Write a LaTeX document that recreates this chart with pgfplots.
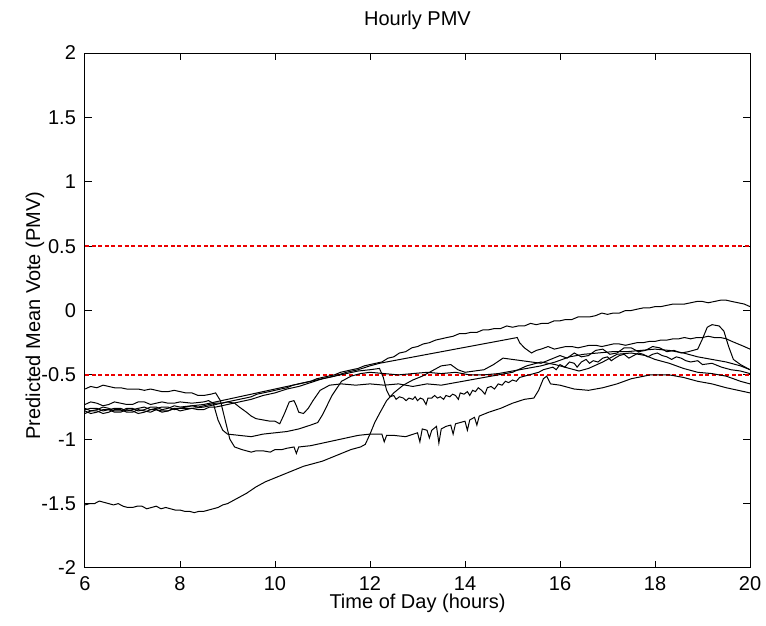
\documentclass[border=0pt]{standalone}
\usepackage{pgfplots}
\pgfplotsset{compat=1.18}
\usepackage{fontspec}
\setmainfont{Liberation Sans}
\definecolor{refred}{RGB}{235,0,0}
\begin{document}
\begin{tikzpicture}[font=\fontsize{10}{12}\selectfont]
\path[use as bounding box] (-42.5pt,-29pt) rectangle (340.5pt,284pt);
\begin{axis}[
  at={(0pt,0pt)}, anchor=south west,
  width=332.5pt, height=257.5pt, scale only axis,
  xmin=6, xmax=20, ymin=-2, ymax=2,
  xtick={6,8,10,12,14,16,18,20},
  ytick={-2,-1.5,-1,-0.5,0,0.5,1,1.5,2},
  yticklabels={-2,-1.5,-1,-0.5,0,0.5,1,1.5,2},
  xtick pos=both, ytick pos=both,
  tick align=inside, major tick length=3.5pt,
  tick style={black, line width=0.5pt},
  axis line style={black, line width=0.5pt},
  /pgf/number format/assume math mode=true,
  xticklabel style={inner sep=0.5pt, yshift=-3.8pt},
  yticklabel style={xshift=-1pt},
  xlabel={Time of Day (hours)},
  ylabel={Predicted Mean Vote (PMV)},
  xlabel style={at={(axis description cs:0.5,0)}, anchor=north, inner sep=0.5pt, yshift=-12.5pt},
  ylabel style={at={(axis description cs:-0.0752,0.49)}, anchor=center},
  clip=true,
]
% reference lines
\addplot[refred, line width=0.9pt, dash pattern=on 2pt off 1.3pt] coordinates {(6,0.5) (20,0.5)};
\addplot[refred, line width=0.9pt, dash pattern=on 2pt off 1.3pt] coordinates {(6,-0.5) (20,-0.5)};
% S1 top
\addplot[black, line width=0.5pt] coordinates {
(6.0,-0.77)(6.12,-0.76)(6.25,-0.76)(6.38,-0.78)(6.5,-0.77)(6.62,-0.76)(6.75,-0.76)(6.88,-0.78)(7.0,-0.77)(7.12,-0.76)(7.25,-0.75)(7.38,-0.77)(7.5,-0.76)(7.62,-0.75)(7.75,-0.75)(7.88,-0.77)(8.0,-0.76)(8.12,-0.75)(8.25,-0.74)(8.38,-0.75)(8.5,-0.74)(8.62,-0.73)(8.75,-0.72)(8.88,-0.72)(9.0,-0.71)(9.12,-0.70)(9.25,-0.69)(9.38,-0.68)(9.5,-0.67)(9.62,-0.65)(9.75,-0.64)(9.88,-0.63)(10.0,-0.62)(10.12,-0.61)(10.25,-0.60)(10.38,-0.58)(10.5,-0.57)(10.62,-0.56)(10.75,-0.55)(10.88,-0.53)(11.0,-0.52)(11.12,-0.51)(11.25,-0.50)(11.38,-0.48)(11.5,-0.47)(11.62,-0.46)(11.75,-0.45)(11.88,-0.43)(12.0,-0.42)(12.12,-0.41)(12.25,-0.40)(12.38,-0.37)(12.5,-0.36)(12.62,-0.33)(12.75,-0.32)(12.88,-0.29)(13.0,-0.28)(13.12,-0.26)(13.25,-0.25)(13.38,-0.23)(13.5,-0.22)(13.62,-0.21)(13.75,-0.20)(13.88,-0.18)(14.0,-0.18)(14.12,-0.17)(14.25,-0.17)(14.38,-0.15)(14.5,-0.15)(14.62,-0.14)(14.75,-0.14)(14.88,-0.12)(15.0,-0.13)(15.12,-0.12)(15.25,-0.12)(15.38,-0.10)(15.5,-0.11)(15.62,-0.10)(15.75,-0.10)(15.88,-0.08)(16.0,-0.08)(16.12,-0.07)(16.25,-0.07)(16.38,-0.05)(16.5,-0.05)(16.62,-0.05)(16.75,-0.04)(16.88,-0.02)(17.0,-0.03)(17.12,-0.02)(17.25,-0.02)(17.38,0.00)(17.5,0.00)(17.62,0.01)(17.75,0.02)(17.88,0.02)(18.0,0.03)(18.12,0.03)(18.25,0.04)(18.38,0.05)(18.5,0.05)(18.62,0.05)(18.75,0.06)(18.88,0.07)(19.0,0.07)(19.12,0.06)(19.25,0.07)(19.38,0.08)(19.5,0.08)(19.62,0.07)(19.75,0.06)(19.88,0.05)(20.0,0.03)
};
% S2 with gap
\addplot[black, line width=0.5pt] coordinates {
(6.0,-0.80)(6.12,-0.78)(6.25,-0.78)(6.38,-0.80)(6.5,-0.79)(6.62,-0.77)(6.75,-0.77)(6.88,-0.79)(7.0,-0.79)(7.12,-0.77)(7.25,-0.78)(7.38,-0.79)(7.5,-0.77)(7.62,-0.78)(7.75,-0.78)(7.88,-0.76)(8.0,-0.78)(8.12,-0.77)(8.25,-0.76)(8.38,-0.77)(8.5,-0.77)(8.62,-0.75)(8.75,-0.75)(8.88,-0.74)(9.0,-0.73)(9.25,-0.71)(9.5,-0.69)(9.75,-0.66)(10.0,-0.64)(10.25,-0.61)(10.5,-0.59)(10.75,-0.56)(11.0,-0.53)(11.25,-0.51)(11.5,-0.48)(11.75,-0.46)(12.0,-0.43)(12.2,-0.41)
(15.1,-0.21)(15.15,-0.25)(15.25,-0.29)(15.4,-0.33)(15.5,-0.31)(15.6,-0.30)(15.75,-0.28)(15.88,-0.30)(16.0,-0.29)(16.12,-0.28)(16.25,-0.28)(16.38,-0.29)(16.5,-0.28)(16.62,-0.27)(16.75,-0.27)(16.88,-0.28)(17.0,-0.27)(17.12,-0.26)(17.25,-0.26)(17.38,-0.27)(17.5,-0.26)(17.62,-0.25)(17.75,-0.25)(17.88,-0.24)(18.0,-0.24)(18.12,-0.23)(18.25,-0.23)(18.38,-0.22)(18.5,-0.22)(18.62,-0.21)(18.75,-0.22)(18.88,-0.21)(19.0,-0.21)(19.12,-0.20)(19.25,-0.21)(19.38,-0.21)(19.5,-0.22)(19.62,-0.24)(19.75,-0.26)(19.88,-0.28)(20.0,-0.30)
};
% C: drops at 12.25, noisy
\addplot[black, line width=0.5pt] coordinates {
(6.0,-0.76)(6.12,-0.78)(6.25,-0.77)(6.38,-0.75)(6.5,-0.76)(6.62,-0.78)(6.75,-0.78)(6.88,-0.76)(7.0,-0.76)(7.12,-0.78)(7.25,-0.77)(7.38,-0.75)(7.5,-0.75)(7.62,-0.77)(7.75,-0.76)(7.88,-0.74)(8.0,-0.75)(8.25,-0.74)(8.5,-0.73)(8.75,-0.71)(9.0,-0.69)(9.25,-0.67)(9.5,-0.65)(9.75,-0.63)(10.0,-0.61)(10.25,-0.59)(10.5,-0.57)(10.75,-0.55)(11.0,-0.53)(11.25,-0.51)(11.5,-0.49)(11.75,-0.47)(12.0,-0.46)(12.2,-0.45)(12.28,-0.52)(12.35,-0.62)(12.42,-0.67)(12.5,-0.66)(12.55,-0.69)(12.62,-0.67)(12.7,-0.68)(12.76,-0.70)(12.82,-0.68)(12.9,-0.69)(12.95,-0.67)(13.0,-0.70)(13.06,-0.68)(13.12,-0.69)(13.18,-0.73)(13.22,-0.68)(13.3,-0.68)(13.36,-0.66)(13.42,-0.68)(13.48,-0.67)(13.55,-0.69)(13.6,-0.66)(13.68,-0.67)(13.74,-0.65)(13.8,-0.66)(13.86,-0.69)(13.9,-0.64)(13.98,-0.65)(14.05,-0.63)(14.1,-0.66)(14.16,-0.62)(14.22,-0.63)(14.28,-0.60)(14.35,-0.62)(14.42,-0.65)(14.47,-0.60)(14.55,-0.59)(14.62,-0.61)(14.7,-0.57)(14.78,-0.58)(14.85,-0.55)(14.92,-0.56)(15.0,-0.54)(15.08,-0.55)(15.15,-0.52)(15.25,-0.51)(15.35,-0.50)(15.45,-0.49)(15.55,-0.48)(15.65,-0.46)(15.75,-0.45)(15.85,-0.44)(15.92,-0.46)(16.0,-0.42)(16.1,-0.44)(16.2,-0.40)(16.3,-0.41)(16.36,-0.44)(16.45,-0.40)(16.55,-0.38)(16.62,-0.41)(16.7,-0.39)(16.8,-0.40)(16.9,-0.37)(17.0,-0.36)(17.08,-0.39)(17.16,-0.37)(17.25,-0.35)(17.35,-0.34)(17.45,-0.37)(17.55,-0.35)(17.65,-0.33)(17.75,-0.34)(17.85,-0.36)(17.95,-0.34)(18.05,-0.33)(18.15,-0.35)(18.25,-0.36)(18.35,-0.38)(18.45,-0.36)(18.55,-0.37)(18.65,-0.39)(18.75,-0.40)(18.9,-0.39)(19.0,-0.42)(19.2,-0.41)(19.4,-0.44)(19.6,-0.46)(19.8,-0.47)(20.0,-0.49)
};
% E: W-shaped early, smooth later
\addplot[black, line width=0.5pt] coordinates {
(6.0,-0.78)(6.12,-0.80)(6.25,-0.79)(6.38,-0.77)(6.5,-0.77)(6.62,-0.79)(6.75,-0.79)(6.88,-0.77)(7.0,-0.78)(7.12,-0.80)(7.25,-0.79)(7.38,-0.77)(7.5,-0.77)(7.62,-0.79)(7.75,-0.78)(7.88,-0.76)(8.0,-0.76)(8.25,-0.76)(8.5,-0.75)(8.75,-0.73)(9.0,-0.71)(9.15,-0.72)(9.25,-0.75)(9.4,-0.79)(9.5,-0.82)(9.6,-0.84)(9.75,-0.85)(9.9,-0.86)(10.0,-0.86)(10.1,-0.88)(10.2,-0.80)(10.3,-0.71)(10.4,-0.70)(10.45,-0.74)(10.5,-0.79)(10.6,-0.80)(10.7,-0.76)(10.8,-0.70)(10.95,-0.62)(11.15,-0.58)(11.4,-0.57)(11.7,-0.58)(12.0,-0.57)(12.3,-0.58)(12.6,-0.57)(12.9,-0.59)(13.2,-0.57)(13.5,-0.58)(13.8,-0.56)(14.1,-0.54)(14.4,-0.52)(14.7,-0.50)(15.0,-0.48)(15.3,-0.43)(15.6,-0.40)(15.9,-0.42)(16.2,-0.45)(16.4,-0.47)(16.6,-0.45)(16.9,-0.40)(17.2,-0.34)(17.5,-0.33)(17.8,-0.35)(18.0,-0.38)(18.3,-0.41)(18.6,-0.45)(18.9,-0.48)(19.2,-0.49)(19.5,-0.51)(19.8,-0.55)(20.0,-0.57)
};
% D1: drop at 8.8
\addplot[black, line width=0.5pt] coordinates {
(6.0,-0.73)(6.12,-0.71)(6.25,-0.72)(6.38,-0.74)(6.5,-0.73)(6.62,-0.71)(6.75,-0.72)(6.88,-0.73)(7.0,-0.73)(7.12,-0.71)(7.25,-0.71)(7.38,-0.73)(7.5,-0.72)(7.62,-0.71)(7.75,-0.72)(7.88,-0.72)(8.0,-0.71)(8.25,-0.72)(8.5,-0.71)(8.6,-0.70)(8.7,-0.72)(8.8,-0.85)(8.9,-0.93)(9.0,-0.96)(9.25,-0.97)(9.5,-0.98)(9.75,-0.96)(10.0,-0.95)(10.25,-0.94)(10.5,-0.92)(10.75,-0.89)(10.9,-0.87)(11.0,-0.81)(11.2,-0.66)(11.4,-0.55)(11.6,-0.51)(11.8,-0.49)(12.0,-0.48)(12.3,-0.49)(12.6,-0.50)(12.9,-0.49)(13.2,-0.48)(13.5,-0.49)(13.8,-0.48)(14.1,-0.50)(14.4,-0.50)(14.7,-0.49)(15.0,-0.47)(15.3,-0.45)(15.6,-0.43)(15.9,-0.40)(16.2,-0.36)(16.5,-0.34)(16.8,-0.33)(17.1,-0.32)(17.4,-0.32)(17.7,-0.31)(18.0,-0.30)(18.3,-0.31)(18.6,-0.33)(18.9,-0.36)(19.2,-0.38)(19.5,-0.40)(19.8,-0.43)(20.0,-0.46)
};
% D2: starts highest, drops at 8.9, spiky
\addplot[black, line width=0.5pt] coordinates {
(6.0,-0.61)(6.12,-0.59)(6.25,-0.60)(6.38,-0.58)(6.5,-0.59)(6.62,-0.60)(6.75,-0.60)(6.88,-0.61)(7.0,-0.61)(7.12,-0.61)(7.25,-0.62)(7.38,-0.61)(7.5,-0.62)(7.62,-0.63)(7.75,-0.63)(7.88,-0.62)(8.0,-0.63)(8.12,-0.64)(8.25,-0.64)(8.38,-0.66)(8.5,-0.66)(8.65,-0.65)(8.75,-0.64)(8.85,-0.70)(8.95,-0.85)(9.05,-1.00)(9.15,-1.06)(9.3,-1.08)(9.5,-1.10)(9.6,-1.09)(9.75,-1.09)(9.9,-1.10)(10.0,-1.08)(10.15,-1.08)(10.25,-1.07)(10.4,-1.06)(10.45,-1.11)(10.5,-1.06)(10.75,-1.05)(11.0,-1.03)(11.25,-1.01)(11.5,-0.99)(11.75,-0.97)(12.0,-0.96)(12.25,-0.96)(12.3,-1.02)(12.35,-0.97)(12.5,-0.97)(12.75,-0.98)(13.0,-0.95)(13.05,-1.02)(13.1,-0.92)(13.2,-0.93)(13.25,-0.99)(13.3,-0.93)(13.4,-0.90)(13.45,-1.03)(13.5,-0.92)(13.6,-0.90)(13.7,-0.89)(13.75,-0.96)(13.8,-0.88)(13.9,-0.87)(14.0,-0.86)(14.05,-0.93)(14.1,-0.85)(14.2,-0.83)(14.25,-0.89)(14.3,-0.82)(14.5,-0.79)(14.75,-0.76)(15.0,-0.72)(15.25,-0.69)(15.45,-0.68)(15.55,-0.62)(15.65,-0.53)(15.72,-0.51)(15.8,-0.57)(16.0,-0.58)(16.3,-0.61)(16.6,-0.62)(16.9,-0.60)(17.2,-0.57)(17.5,-0.53)(17.9,-0.50)(18.3,-0.50)(18.6,-0.52)(18.9,-0.55)(19.2,-0.57)(19.5,-0.60)(19.75,-0.62)(20.0,-0.64)
};
% S_low: starts at -1.5, jumps at 12
\addplot[black, line width=0.5pt] coordinates {
(6.0,-1.51)(6.1,-1.50)(6.2,-1.50)(6.3,-1.48)(6.4,-1.49)(6.5,-1.50)(6.6,-1.51)(6.7,-1.50)(6.8,-1.52)(6.9,-1.53)(7.0,-1.53)(7.1,-1.52)(7.2,-1.52)(7.3,-1.54)(7.4,-1.53)(7.5,-1.52)(7.6,-1.54)(7.7,-1.53)(7.8,-1.54)(7.9,-1.55)(8.0,-1.55)(8.1,-1.56)(8.2,-1.56)(8.3,-1.57)(8.4,-1.56)(8.5,-1.56)(8.6,-1.55)(8.7,-1.54)(8.8,-1.53)(8.9,-1.51)(9.0,-1.50)(9.2,-1.46)(9.4,-1.42)(9.6,-1.37)(9.8,-1.33)(10.0,-1.30)(10.2,-1.27)(10.4,-1.24)(10.6,-1.21)(10.8,-1.19)(11.0,-1.17)(11.2,-1.14)(11.4,-1.11)(11.6,-1.08)(11.8,-1.06)(11.9,-1.04)(12.0,-0.96)(12.1,-0.87)(12.2,-0.80)(12.35,-0.70)(12.5,-0.64)(12.7,-0.58)(12.9,-0.54)(13.1,-0.51)(13.3,-0.47)(13.5,-0.43)(13.7,-0.42)(13.85,-0.46)(14.0,-0.48)(14.2,-0.47)(14.4,-0.46)(14.6,-0.42)(14.8,-0.37)(15.0,-0.38)(15.2,-0.39)(15.4,-0.40)(15.6,-0.41)(15.8,-0.38)(16.0,-0.35)(16.15,-0.37)(16.3,-0.33)(16.45,-0.36)(16.6,-0.35)(16.75,-0.31)(16.9,-0.30)(17.05,-0.34)(17.2,-0.33)(17.35,-0.29)(17.5,-0.29)(17.65,-0.32)(17.8,-0.31)(17.95,-0.28)(18.1,-0.29)(18.25,-0.32)(18.4,-0.31)(18.55,-0.33)(18.7,-0.32)(18.9,-0.30)(19.0,-0.22)(19.1,-0.13)(19.2,-0.11)(19.35,-0.12)(19.45,-0.16)(19.55,-0.28)(19.65,-0.38)(19.8,-0.42)(20.0,-0.46)
};
\end{axis}
\node at (166.25pt,274pt) {Hourly PMV};
\end{tikzpicture}
\end{document}
